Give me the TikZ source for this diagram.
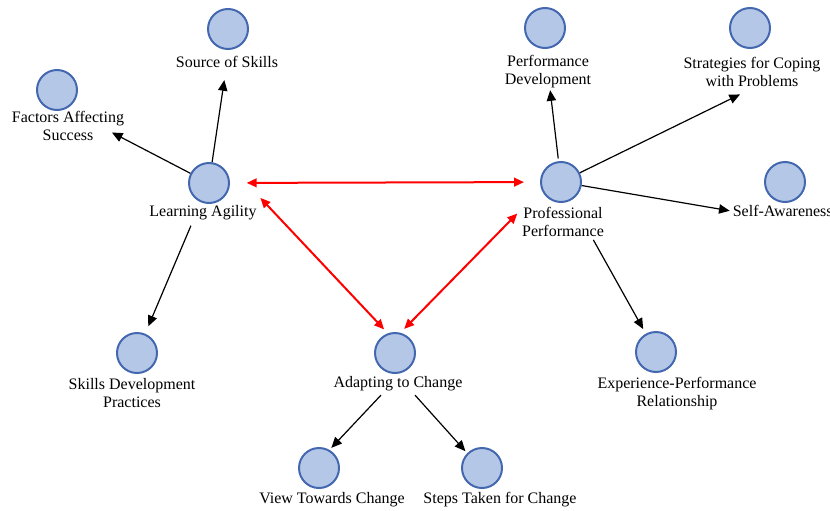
\documentclass[tikz,border=0pt]{standalone}
\usepackage{fontspec}
\setmainfont{Liberation Serif}
\usetikzlibrary{arrows.meta,calc}

\tikzset{every picture/.style={line width=0.75pt}}
\tikzset{
	bubble/.style={circle, draw={rgb, 255:red, 68; green, 104; blue, 176 }, fill={rgb, 255:red, 180; green, 199; blue, 231 }, line width=1.5pt, minimum size=30pt, inner sep=0pt},
	caption/.style={align=center, inner sep=1pt, font=\fontsize{12}{13.5}\selectfont},
	link/.style={draw=black, line width=0.9pt, -{Triangle[length=8pt,width=7pt]}},
	tie/.style={draw={rgb, 255:red, 255; green, 0; blue, 0 }, line width=1.5pt, {Triangle[length=7.5pt,width=6.5pt]}-{Triangle[length=7.5pt,width=6.5pt]}},
}

\begin{document}
\begin{tikzpicture}[x=0.75pt,y=0.75pt,yscale=-1,xscale=1]
	\useasboundingbox (0,0) rectangle (830,510);

	%Shape: Circle
	\node[bubble] (sos) at (228,29) {};
	\node[bubble] (fas) at (57,90) {};
	\node[bubble] (la) at (209,183) {};
	\node[bubble] (sdp) at (137,353) {};
	\node[bubble] (ac) at (395,353) {};
	\node[bubble] (vtc) at (319,468) {};
	\node[bubble] (stc) at (482,468) {};
	\node[bubble] (pp) at (561,182) {};
	\node[bubble] (pd) at (545,28) {};
	\node[bubble] (scp) at (750,28) {};
	\node[bubble] (sa) at (785,182) {};
	\node[bubble] (epr) at (656,352) {};

	% Text Node
	\node[caption] (sos-t) at (227,62) {Source of Skills};
	% Text Node
	\node[caption] (fas-t) at (68,125.5) {Factors Affecting\\Success};
	% Text Node
	\node[caption] (la-t) at (203,213) {Learning Agility};
	% Text Node
	\node[caption] (sdp-t) at (132,393) {Skills Development\\Practices};
	% Text Node
	\node[caption] (ac-t) at (398,384) {Adapting to Change};
	% Text Node
	\node[caption] (vtc-t) at (332,500) {View Towards Change};
	% Text Node
	\node[caption] (stc-t) at (500,500) {Steps Taken for Change};
	% Text Node
	\node[caption] (pp-t) at (563,221.5) {Professional\\Performance};
	% Text Node
	\node[caption] (pd-t) at (548,72) {Performance\\Development};
	% Text Node
	\node[caption] (scp-t) at (752,72) {Strategies for Coping\\with Problems};
	% Text Node
	\node[caption, anchor=west] (sa-t) at (731,211) {Self-Awareness};
	% Text Node
	\node[caption] (epr-t) at (677,394) {Experience-Performance\\Relationship};

	%Straight Lines
	\draw[link, shorten >=8pt] (la) -- (sos-t);
	\draw[link] (la) -- ($(fas-t.east)+(-14,7)$);
	\draw[link, shorten <=19pt, shorten >=6pt] (la) -- (sdp);
	%Straight Lines
	\draw[link, shorten <=2pt] (pp) -- (pd-t);
	\draw[link, shorten >=10pt] (pp) -- (scp-t.south);
	\draw[link, shorten >=1pt] (pp) -- (sa-t.west);
	\draw[link, shorten <=34pt, shorten >=4pt] (pp) -- (epr);
	%Straight Lines
	\draw[link, shorten >=2pt] ($(ac-t.south)+(-17,2)$) -- (vtc.60);
	\draw[link, shorten >=2pt] ($(ac-t.south)+(17,2)$) -- (stc.135);

	%Straight Lines (red)
	\draw[tie, shorten <=12.5pt, shorten >=12pt] (la) -- (pp);
	\draw[tie, shorten >=4pt] ($(la-t.north east)+(2,-6)$) -- (ac.110);
	\draw[tie, shorten >=4pt] ($(pp-t.west)+(-3,-8)$) -- (ac.75);

\end{tikzpicture}
\end{document}
